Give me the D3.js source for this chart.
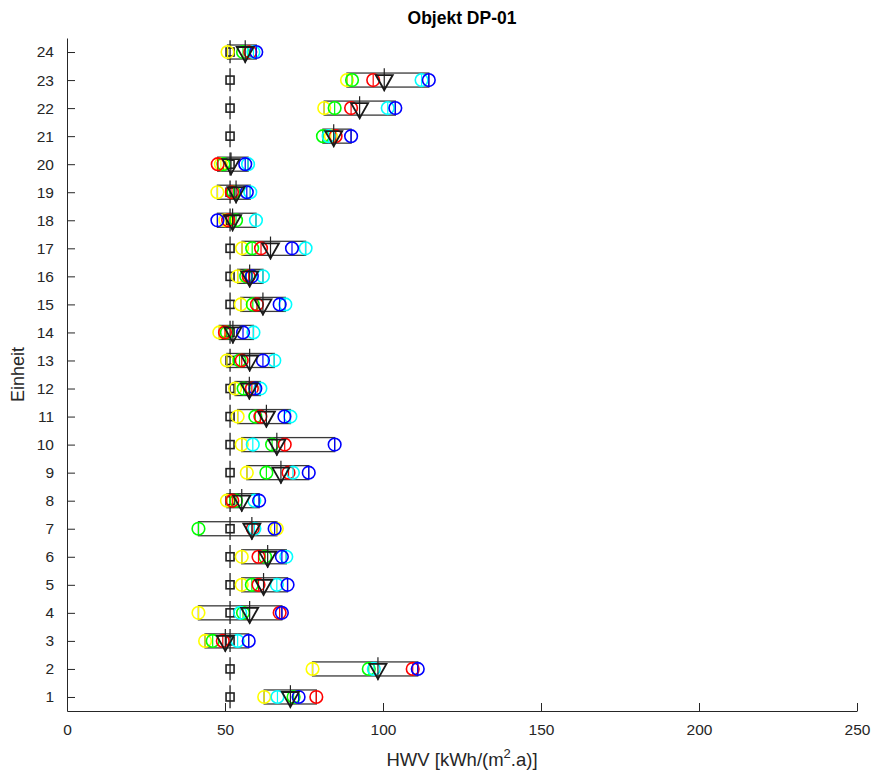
<!DOCTYPE html>
<html>
<head>
<meta charset="utf-8">
<script src="https://cdn.jsdelivr.net/npm/d3@7"></script>
<style>
  html, body { margin: 0; padding: 0; background: #fff; }
  svg { display: block; font-family: "Liberation Sans", Arial, Helvetica, sans-serif; }
</style>
</head>
<body>
<svg id="chart" width="873" height="771"></svg>
<script>
// Units (Einheiten) of object DP-01
const units = d3.range(1, 25);

// HWV values per unit for the five variants [kWh/(m².a)]
const yellowVals = [62.4, 77.7, 43.7, 41.6, 55.3, 55.3, 66.4, 50.6, 56.9, 55.3, 54.0, 53.2,
                    50.6, 48.2, 55.0, 54.0, 55.4, 50.1, 47.6, 48.7, 83.5, 81.4, 88.6, 50.8];
const greenVals  = [71.7, 95.5, 46.1, 55.7, 58.5, 62.7, 41.6, 53.5, 63.1, 64.9, 59.6, 55.9,
                    54.6, 50.6, 58.8, 56.7, 58.6, 53.5, 52.7, 49.5, 81.0, 84.7, 90.2, 55.7];
const redVals    = [78.9, 109.4, 49.3, 67.3, 60.6, 60.6, 58.8, 52.3, 70.1, 68.9, 61.2, 58.5,
                    55.3, 50.0, 60.1, 57.5, 61.4, 51.0, 52.2, 47.7, 85.0, 89.9, 96.9, 58.0];
const cyanVals   = [66.6, 97.1, 54.0, 54.8, 66.4, 69.4, 59.3, 59.3, 71.5, 58.8, 70.7, 61.2,
                    65.6, 59.0, 69.1, 62.0, 75.5, 59.8, 58.0, 57.3, 82.8, 101.5, 112.2, 59.0];
const blueVals   = [73.3, 111.0, 57.5, 68.0, 69.8, 68.0, 65.7, 60.8, 76.5, 84.7, 68.8, 59.6,
                    62.0, 55.7, 67.3, 58.5, 71.2, 47.6, 56.9, 56.4, 89.9, 103.9, 114.5, 59.9];

// Mean value per unit (triangle marker)
const meanVals   = [70.7, 98.4, 50.1, 57.8, 62.2, 63.5, 58.5, 55.3, 67.7, 66.4, 63.1, 57.7,
                    57.8, 52.5, 62.0, 57.8, 64.4, 52.4, 53.5, 51.9, 84.4, 92.6, 100.4, 56.4];

// Reference value per unit (square marker)
const refVals = units.map(() => 51.6);

const xTicks = [0, 50, 100, 150, 200, 250];

const series = [
  { name: "gelb",  color: "#ffff00", values: yellowVals },
  { name: "grün",  color: "#00ff00", values: greenVals },
  { name: "rot",   color: "#ff0000", values: redVals },
  { name: "cyan",  color: "#00ffff", values: cyanVals },
  { name: "blau",  color: "#0000ff", values: blueVals }
];

const svg = d3.select("#chart");
const axisColor = "#262626";

const x = d3.scaleLinear().domain([0, 250]).range([67, 857]);
const y = d3.scaleLinear().domain([0.5, 24.5]).range([711, 38]);
const rowH = Math.abs(y(1) - y(0));

// Axes (ticks pointing inward)
const xAxis = svg.append("g")
  .attr("transform", `translate(0,${y(0.5)})`)
  .call(d3.axisBottom(x).tickValues(xTicks).tickSize(-8).tickSizeOuter(0).tickPadding(13));
const yAxis = svg.append("g")
  .attr("transform", `translate(${x(0)},0)`)
  .call(d3.axisLeft(y).tickValues(units).tickFormat(d3.format("d")).tickSize(-8).tickSizeOuter(0).tickPadding(13));

[xAxis, yAxis].forEach(g => {
  g.selectAll("path.domain").attr("stroke", axisColor).attr("stroke-width", 1);
  g.selectAll(".tick line").attr("stroke", axisColor).attr("stroke-width", 1);
  g.selectAll(".tick text").attr("fill", axisColor).attr("font-size", 15.5)
    .attr("font-family", "'Liberation Sans', Arial, sans-serif");
});

const plot = svg.append("g");

const rows = units.map((u, i) => {
  const vals = series.map(s => s.values[i]);
  const [lo, hi] = d3.extent(vals);
  return { unit: u, i, lo, hi, mean: meanVals[i], ref: refVals[i] };
});

// Range box (min..max of the five variants)
plot.selectAll("rect.range").data(rows).join("rect")
  .attr("class", "range")
  .attr("x", d => x(d.lo))
  .attr("y", d => y(d.unit) - rowH * 0.25)
  .attr("width", d => x(d.hi) - x(d.lo))
  .attr("height", rowH * 0.5)
  .attr("fill", "none")
  .attr("stroke", "#3a3a3a")
  .attr("stroke-width", 1.3);

// Reference line segments and squares
plot.selectAll("line.ref").data(rows).join("line")
  .attr("class", "ref")
  .attr("x1", d => x(d.ref)).attr("x2", d => x(d.ref))
  .attr("y1", d => y(d.unit) - rowH * 0.42)
  .attr("y2", d => y(d.unit) + rowH * 0.4)
  .attr("stroke", "#222").attr("stroke-width", 1.3);
plot.selectAll("rect.ref").data(rows).join("rect")
  .attr("class", "ref")
  .attr("x", d => x(d.ref) - 4)
  .attr("y", d => y(d.unit) - 4)
  .attr("width", 8).attr("height", 8)
  .attr("fill", "none").attr("stroke", "#222").attr("stroke-width", 1.6);

// Variant circles with centre bar
series.forEach(s => {
  const g = plot.append("g");
  g.selectAll("circle").data(units).join("circle")
    .attr("cx", (u, i) => x(s.values[i]))
    .attr("cy", u => y(u))
    .attr("r", 6.3)
    .attr("fill", "none")
    .attr("stroke", s.color)
    .attr("stroke-width", 1.6);
  g.selectAll("line").data(units).join("line")
    .attr("x1", (u, i) => x(s.values[i]))
    .attr("x2", (u, i) => x(s.values[i]))
    .attr("y1", u => y(u) - 5.8)
    .attr("y2", u => y(u) + 5.8)
    .attr("stroke", s.color)
    .attr("stroke-width", 1.2);
});

// Mean: vertical line and downward triangle
plot.selectAll("line.mean").data(rows).join("line")
  .attr("class", "mean")
  .attr("x1", d => x(d.mean)).attr("x2", d => x(d.mean))
  .attr("y1", d => y(d.unit) - rowH * 0.42)
  .attr("y2", d => y(d.unit) + rowH * 0.4)
  .attr("stroke", "#222").attr("stroke-width", 1.2);
plot.selectAll("path.mean").data(rows).join("path")
  .attr("class", "mean")
  .attr("d", d => {
    const cx = x(d.mean), cy = y(d.unit);
    return `M${cx - 8.5},${cy - 5}L${cx + 8.5},${cy - 5}L${cx},${cy + 10}Z`;
  })
  .attr("fill", "none").attr("stroke", "#1a1a1a").attr("stroke-width", 1.8)
  .attr("stroke-linejoin", "miter");

// Title and axis labels
svg.append("text")
  .attr("x", (x(0) + x(250)) / 2).attr("y", 24)
  .attr("text-anchor", "middle")
  .attr("font-size", 17.5).attr("font-weight", "bold").attr("fill", "#000")
  .text("Objekt DP-01");

const xl = svg.append("text")
  .attr("x", (x(0) + x(250)) / 2).attr("y", 766)
  .attr("text-anchor", "middle")
  .attr("font-size", 18.5).attr("fill", axisColor);
xl.append("tspan").text("HWV [kWh/(m");
xl.append("tspan").attr("dy", -8).attr("font-size", 13).text("2");
xl.append("tspan").attr("dy", 8).text(".a)]");

svg.append("text")
  .attr("transform", `translate(24,${(y(0.5) + y(24.5)) / 2}) rotate(-90)`)
  .attr("text-anchor", "middle")
  .attr("font-size", 18).attr("fill", axisColor)
  .text("Einheit");
</script>
</body>
</html>
